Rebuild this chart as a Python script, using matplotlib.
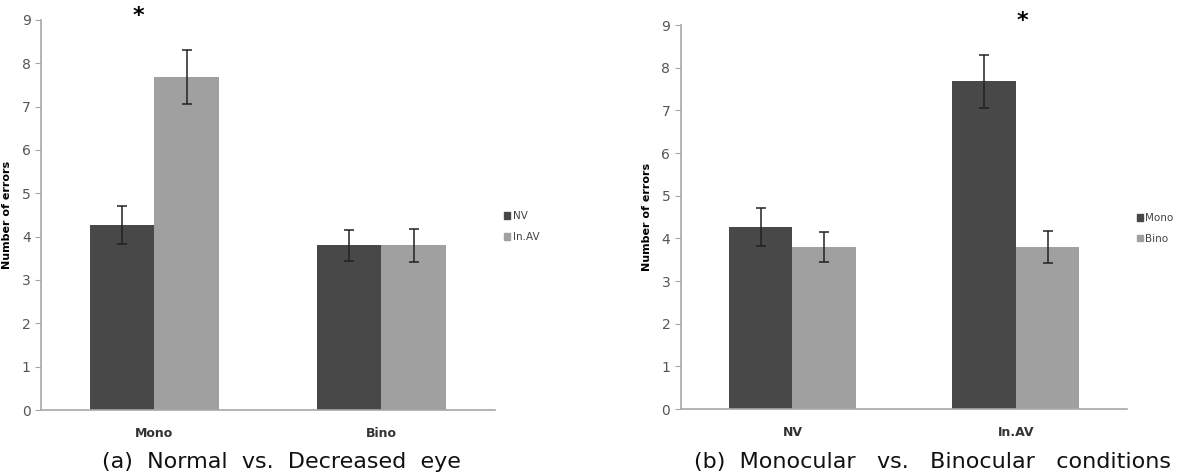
import numpy as np
import matplotlib.pyplot as plt
from matplotlib.patches import Patch

# %% data
groups_a = ['Mono', 'Bino']
nv_a = [4.27, 3.80]
nv_a_err = [0.44, 0.36]
inav_a = [7.68, 3.80]
inav_a_err = [0.63, 0.38]

groups_b = ['NV', 'In.AV']
mono_b = [4.27, 7.68]
mono_b_err = [0.44, 0.63]
bino_b = [3.80, 3.80]
bino_b_err = [0.36, 0.38]

dark = '#484848'
light = '#a0a0a0'
axcol = '#a8a8a8'
w = 0.285


def panel(ax, cats, s1, e1, s2, e2, names, star_x):
    x = np.arange(len(cats))
    ax.bar(x - w / 2, s1, w, color=dark)
    ax.bar(x + w / 2, s2, w, color=light)
    ax.errorbar(x - w / 2, s1, yerr=e1, fmt='none', ecolor='#222222',
                elinewidth=1.1, capsize=3.5, capthick=1.1)
    ax.errorbar(x + w / 2, s2, yerr=e2, fmt='none', ecolor='#222222',
                elinewidth=1.1, capsize=3.5, capthick=1.1)
    ax.set_xlim(-0.5, len(cats) - 0.5)
    ax.set_ylim(0, 9)
    ax.set_yticks(range(10))
    ax.set_xticks(x)
    ax.set_xticklabels(cats, fontsize=9, fontweight='bold', color='#333333')
    ax.tick_params(axis='x', length=0, pad=12)
    ax.tick_params(axis='y', labelsize=10, labelcolor='#555555', color=axcol,
                   length=4, direction='out')
    for s in ['top', 'right']:
        ax.spines[s].set_visible(False)
    ax.spines['left'].set_color(axcol)
    ax.spines['bottom'].set_color(axcol)
    ax.spines['left'].set_linewidth(1.2)
    ax.spines['bottom'].set_linewidth(1.2)
    ax.set_ylabel('Number of errors', fontsize=8, fontweight='bold', labelpad=7)
    ax.text(star_x, 9.1, '*', fontsize=16, fontweight='bold',
            ha='center', va='center', clip_on=False)
    handles = [Patch(color=dark), Patch(color=light)]
    ax.legend(handles, names, loc='center left', bbox_to_anchor=(1.0, 0.47),
              frameon=False, fontsize=7.5, handlelength=0.6, handleheight=0.6,
              handletextpad=0.2, labelspacing=1.0, labelcolor='#444444')


fig = plt.figure(figsize=(11.88, 4.74), dpi=100)
ax1 = fig.add_axes([0.0345, 0.135, 0.382, 0.823])
ax2 = fig.add_axes([0.573, 0.137, 0.376, 0.810])

panel(ax1, groups_a, nv_a, nv_a_err, inav_a, inav_a_err, ['NV', 'In.AV'], -0.07)
panel(ax2, groups_b, mono_b, mono_b_err, bino_b, bino_b_err, ['Mono', 'Bino'], 1.03)

fig.text(0.237, 0.025, '(a)  Normal  vs.  Decreased  eye', fontsize=16,
         ha='center', va='center', color='#111111')
fig.text(0.785, 0.025, '(b)  Monocular   vs.   Binocular   conditions',
         fontsize=16, ha='center', va='center', color='#111111')

fig.savefig('out.png', dpi=100)
